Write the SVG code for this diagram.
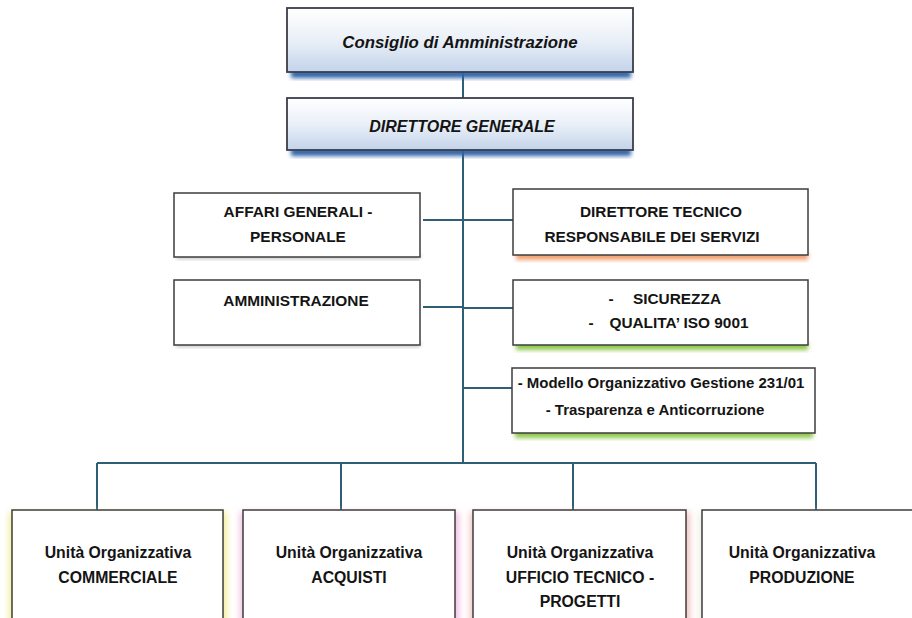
<svg xmlns="http://www.w3.org/2000/svg" width="912" height="618" viewBox="0 0 912 618">
<defs>
<linearGradient id="topfill" x1="0" y1="0" x2="0" y2="1">
<stop offset="0" stop-color="#ffffff"/>
<stop offset="0.5" stop-color="#eaf0f8"/>
<stop offset="1" stop-color="#c3d3ea"/>
</linearGradient>
<filter id="blur" x="-10%" y="-30%" width="120%" height="160%">
<feGaussianBlur stdDeviation="2"/>
</filter>
<filter id="blur2" x="-10%" y="-10%" width="120%" height="120%">
<feGaussianBlur stdDeviation="3"/>
</filter>
</defs>
<style>
.box{fill:#ffffff;stroke:#3c3c3c;stroke-width:1.5}
.top{fill:url(#topfill);stroke:#3a3d48;stroke-width:1.8}
.t{font-family:"Liberation Sans",Arial,sans-serif;font-weight:bold;fill:#141414;text-anchor:middle}
.ti{font-style:italic}
.conn{stroke:#2e5f77;stroke-width:2;fill:none}
</style>
<rect width="912" height="618" fill="#ffffff"/>

<g id="connectors">
<path class="conn" d="M463 72 V98 M463 150 V463 M97 463 H816 M97 463 V510 M341 463 V510 M573 463 V510 M816 463 V510"/>
<path class="conn" d="M423 220 H463 M423 307 H463 M463 220 H513 M463 308 H513 M463 388 H512"/>
</g>

<g id="consiglio">
<rect x="291" y="70" width="340" height="8" fill="#2f64a8" filter="url(#blur)"/>
<rect class="top" x="287" y="8" width="346" height="64"/>
<text class="t ti" x="460" y="48" font-size="16.8">Consiglio di Amministrazione</text>
</g>

<g id="direttore-generale">
<rect x="291" y="148" width="340" height="8" fill="#2f64a8" filter="url(#blur)"/>
<rect class="top" x="287" y="98" width="346" height="52"/>
<text class="t ti" x="462" y="132" font-size="16">DIRETTORE GENERALE</text>
</g>

<g id="affari-generali">
<rect x="176" y="254" width="244" height="5" fill="#9a9a9a" filter="url(#blur)" opacity="0.6"/>
<rect class="box" x="174" y="193" width="246" height="64"/>
<text class="t" x="298" y="217" font-size="15.4">AFFARI GENERALI -</text>
<text class="t" x="298" y="242" font-size="15.4">PERSONALE</text>
</g>

<g id="amministrazione">
<rect x="176" y="342" width="244" height="5" fill="#9a9a9a" filter="url(#blur)" opacity="0.6"/>
<rect class="box" x="174" y="280" width="246" height="65"/>
<text class="t" x="296" y="306" font-size="15.4">AMMINISTRAZIONE</text>
</g>

<g id="direttore-tecnico">
<rect x="516" y="252" width="292" height="8" fill="#f4a070" filter="url(#blur)"/>
<rect class="box" x="513" y="189" width="295" height="66"/>
<text class="t" x="661" y="217" font-size="15.4">DIRETTORE TECNICO</text>
<text class="t" x="652" y="242" font-size="15.4">RESPONSABILE DEI SERVIZI</text>
</g>

<g id="sicurezza">
<rect x="516" y="342" width="292" height="8" fill="#8cc84a" filter="url(#blur)"/>
<rect class="box" x="513" y="280" width="295" height="65"/>
<text class="t" x="611" y="304" font-size="15.4">-</text>
<text class="t" x="677" y="304" font-size="15.4">SICUREZZA</text>
<text class="t" x="591" y="328" font-size="15.4">-</text>
<text class="t" x="679" y="328" font-size="15.4">QUALITA’ ISO 9001</text>
</g>

<g id="modello-231">
<rect x="515" y="430" width="298" height="8" fill="#8cc84a" filter="url(#blur)"/>
<rect class="box" x="512" y="368" width="303" height="65"/>
<text class="t" x="661" y="388" font-size="15">- Modello Organizzativo Gestione 231/01</text>
<text class="t" x="655" y="415" font-size="15">- Trasparenza e Anticorruzione</text>
</g>

<g id="commerciale">
<rect x="9" y="512" width="218" height="120" fill="#f3ee9a" filter="url(#blur2)"/>
<rect class="box" x="12" y="510" width="211" height="115"/>
<text class="t" x="118" y="558" font-size="15.8">Unità Organizzativa</text>
<text class="t" x="118" y="583" font-size="15.8">COMMERCIALE</text>
</g>

<g id="acquisti">
<rect x="240" y="512" width="219" height="120" fill="#f2bfe2" filter="url(#blur2)"/>
<rect class="box" x="243" y="510" width="212" height="115"/>
<text class="t" x="349" y="558" font-size="15.8">Unità Organizzativa</text>
<text class="t" x="349" y="583" font-size="15.8">ACQUISTI</text>
</g>

<g id="ufficio-tecnico">
<rect x="470" y="512" width="220" height="120" fill="#f2c4c4" filter="url(#blur2)"/>
<rect class="box" x="473" y="510" width="213" height="115"/>
<text class="t" x="580" y="558" font-size="15.8">Unità Organizzativa</text>
<text class="t" x="580" y="583" font-size="15.8">UFFICIO TECNICO -</text>
<text class="t" x="580" y="607" font-size="15.8">PROGETTI</text>
</g>

<g id="produzione">
<rect x="699" y="512" width="220" height="120" fill="#eeeee0" filter="url(#blur2)"/>
<rect class="box" x="702" y="510" width="214" height="115"/>
<text class="t" x="802" y="558" font-size="15.8">Unità Organizzativa</text>
<text class="t" x="802" y="583" font-size="15.8">PRODUZIONE</text>
</g>
</svg>
